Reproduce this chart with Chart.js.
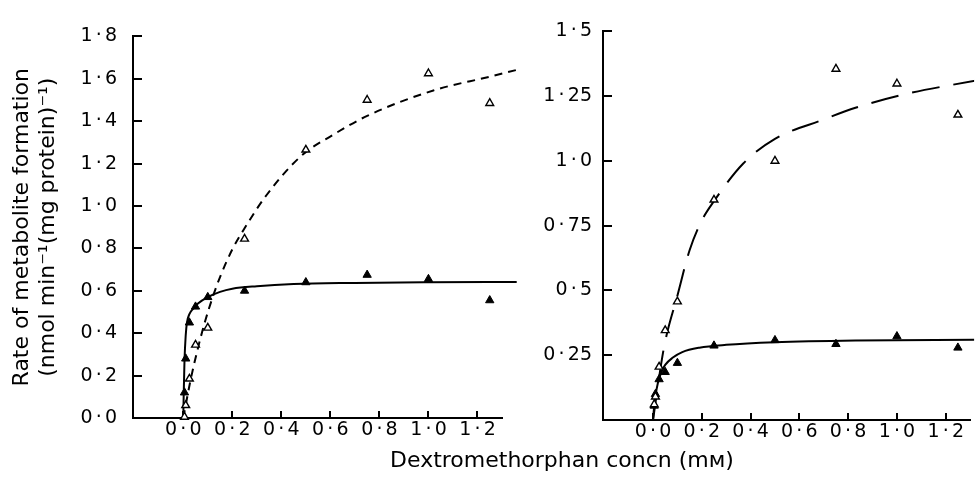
<!DOCTYPE html>
<html>
<head>
<meta charset="utf-8">
<script src="https://cdn.jsdelivr.net/npm/chart.js@4.4.1/dist/chart.umd.min.js"></script>
<style>
  html, body { margin: 0; padding: 0; background: #fff; }
  body { width: 976px; height: 480px; position: relative; overflow: hidden; }
  .panel { position: absolute; top: 0; height: 480px; }
  #leftPanel { left: 0; width: 520px; }
  #rightPanel { left: 490px; width: 486px; }
  #xTitle {
    position: absolute; left: 562px; top: 449px; transform: translateX(-50%);
    font: 22px/22px "DejaVu Sans", sans-serif; color: #000; white-space: nowrap;
  }
</style>
</head>
<body>
<div class="panel" id="leftPanel"><canvas id="left"></canvas></div>
<div class="panel" id="rightPanel"><canvas id="right"></canvas></div>
<div id="xTitle">Dextromethorphan concn (mᴍ)</div>
<script>
// substrate concentrations (mM)
const concn = [0.005, 0.01, 0.025, 0.05, 0.1, 0.25, 0.5, 0.75, 1.0, 1.25];

// left panel measured rates
const leftOpen   = [0.005, 0.06, 0.185, 0.345, 0.425, 0.845, 1.265, 1.50, 1.625, 1.485];
const leftFilled = [0.12, 0.28, 0.45, 0.525, 0.57, 0.60, 0.64, 0.675, 0.655, 0.555];

// left panel fitted curves
const leftDashX = [0, 0.03, 0.06, 0.09, 0.12, 0.15, 0.2, 0.25, 0.34, 0.48, 0.61, 0.75, 1.02, 1.25, 1.36];
const leftDashY = [0, 0.18, 0.33, 0.46, 0.57, 0.665, 0.795, 0.895, 1.052, 1.235, 1.335, 1.425, 1.545, 1.61, 1.642];
const leftSolidX = [0, 0.002, 0.005, 0.01, 0.015, 0.025, 0.04, 0.06, 0.1, 0.15, 0.2, 0.3, 0.45, 0.7, 1.0, 1.36];
const leftSolidY = [0, 0.12, 0.27, 0.39, 0.45, 0.49, 0.515, 0.54, 0.57, 0.595, 0.61, 0.622, 0.632, 0.637, 0.64, 0.642];

// right panel measured rates
const rightOpen   = [0.06, 0.09, 0.205, 0.346, 0.457, 0.85, 1.0, 1.355, 1.298, 1.178];
const rightFilled = [0.055, 0.10, 0.157, 0.185, 0.22, 0.287, 0.308, 0.293, 0.323, 0.279];

// right panel fitted curves
const rightDashX = [0, 0.045, 0.1, 0.15, 0.2, 0.25, 0.37, 0.5, 0.7, 0.83, 1.035, 1.32];
const rightDashY = [0, 0.28, 0.48, 0.655, 0.77, 0.845, 0.99, 1.085, 1.16, 1.205, 1.258, 1.31];
const rightSolidX = [0, 0.005, 0.01, 0.02, 0.035, 0.05, 0.08, 0.12, 0.19, 0.3, 0.5, 0.83, 1.32];
const rightSolidY = [0, 0.055, 0.093, 0.143, 0.187, 0.213, 0.24, 0.262, 0.279, 0.29, 0.30, 0.307, 0.31];

// axes
const xTicks = [0, 0.2, 0.4, 0.6, 0.8, 1.0, 1.2];
const xTickLabels = ['0·0', '0·2', '0·4', '0·6', '0·8', '1·0', '1·2'];
const leftYTicks = [0, 0.2, 0.4, 0.6, 0.8, 1.0, 1.2, 1.4, 1.6, 1.8];
const leftYTickLabels = ['0·0', '0·2', '0·4', '0·6', '0·8', '1·0', '1·2', '1·4', '1·6', '1·8'];
const rightYTicks = [0.25, 0.5, 0.75, 1.0, 1.25, 1.5];
const rightYTickLabels = ['0·25', '0·5', '0·75', '1·0', '1·25', '1·5'];
const yTitleLines = ['Rate of metabolite formation', '(nmol min⁻¹(mg protein)⁻¹)'];

const FONT = '"DejaVu Sans", sans-serif';
const spaced = s => s.replace('·', '\u2006·\u2006');
const pairs = (xs, ys) => xs.map((x, i) => ({ x: x, y: ys[i] }));

function markerSet(ys, filled) {
    return {
        data: pairs(concn, ys),
        pointStyle: 'triangle',
        pointRadius: filled ? 4.8 : 4.5,
        backgroundColor: filled ? '#000' : '#fff',
        borderColor: '#000',
        borderWidth: filled ? 1 : 1.4,
        showLine: false,
        clip: false
    };
}

function curveSet(xs, ys, dash, clipRight) {
    return {
        data: pairs(xs, ys),
        showLine: true,
        pointRadius: 0,
        borderColor: '#000',
        borderWidth: 2,
        borderDash: dash,
        cubicInterpolationMode: 'monotone',
        clip: { left: 2, top: 5, right: clipRight, bottom: 2 }
    };
}

function panel(canvasId, opts) {
    new Chart(document.getElementById(canvasId), {
        type: 'scatter',
        data: { datasets: opts.datasets },
        options: {
            responsive: true,
            maintainAspectRatio: false,
            animation: false,
            layout: { padding: opts.padding },
            plugins: { legend: { display: false }, tooltip: { enabled: false } },
            scales: {
                x: {
                    type: 'linear',
                    min: -0.205,
                    max: 1.30,
                    afterBuildTicks: s => { s.ticks = xTicks.map(v => ({ value: v })); },
                    afterFit: s => { s.height = opts.xHeight; },
                    border: { display: true, color: '#000', width: 2 },
                    grid: { drawOnChartArea: false, drawTicks: true, tickLength: -7, color: '#000', lineWidth: 2 },
                    ticks: {
                        padding: 8,
                        color: '#000',
                        font: { family: FONT, size: 19 },
                        maxRotation: 0,
                        callback: (v, i) => spaced(xTickLabels[i])
                    }
                },
                y: {
                    type: 'linear',
                    min: 0,
                    max: opts.yMax,
                    afterBuildTicks: s => { s.ticks = opts.yTicks.map(v => ({ value: v })); },
                    afterFit: s => { s.width = opts.yWidth; },
                    border: { display: true, color: '#000', width: 2 },
                    grid: { drawOnChartArea: false, drawTicks: true, tickLength: -9, color: '#000', lineWidth: 2 },
                    ticks: {
                        padding: opts.yPad,
                        color: '#000',
                        font: { family: FONT, size: 19 },
                        callback: (v, i) => spaced(opts.yLabels[i])
                    },
                    title: opts.yTitle ? {
                        display: true,
                        text: yTitleLines,
                        color: '#000',
                        font: { family: FONT, size: 22, lineHeight: 1.2 },
                        padding: { top: 9, bottom: 0 }
                    } : { display: false }
                }
            }
        }
    });
}

panel('left', {
    datasets: [
        markerSet(leftOpen, false),
        markerSet(leftFilled, true),
        curveSet(leftDashX, leftDashY, [8, 6], 16),
        curveSet(leftSolidX, leftSolidY, [], 16)
    ],
    padding: { top: 24, right: 18, bottom: 0, left: 0 },
    xHeight: 62,
    yWidth: 133,
    yMax: 1.8,
    yTicks: leftYTicks,
    yLabels: leftYTickLabels,
    yPad: 25,
    yTitle: true
});

panel('right', {
    datasets: [
        markerSet(rightOpen, false),
        markerSet(rightFilled, true),
        curveSet(rightDashX, rightDashY, [28, 14], 4),
        curveSet(rightSolidX, rightSolidY, [], 4)
    ],
    padding: { top: 22, right: 4, bottom: 0, left: 0 },
    xHeight: 60,
    yWidth: 113,
    yMax: 1.5,
    yTicks: rightYTicks,
    yLabels: rightYTickLabels,
    yPad: 20,
    yTitle: false
});
</script>
</body>
</html>
